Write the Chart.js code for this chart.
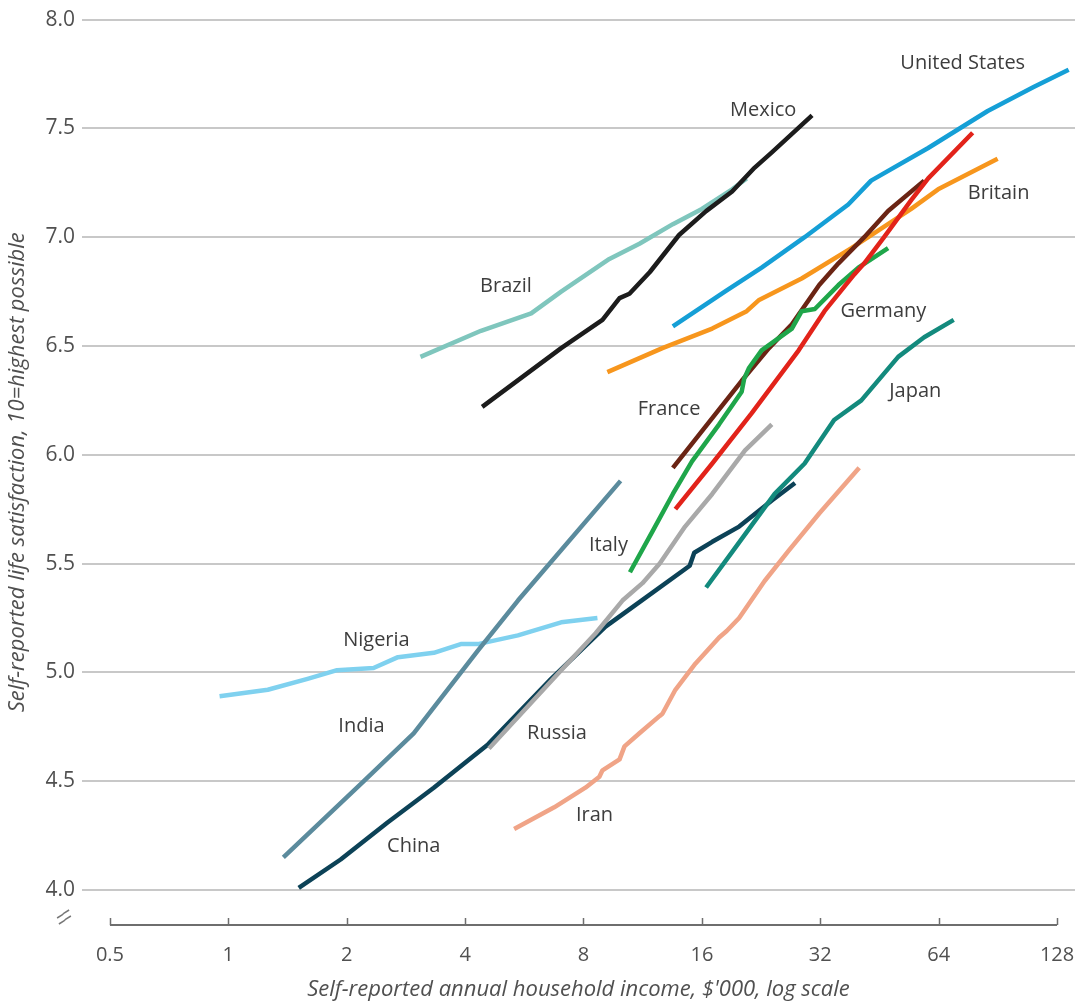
<!DOCTYPE html>
<html>
<head>
<meta charset="utf-8">
<script src="https://cdn.jsdelivr.net/npm/chart.js@4.4.0/dist/chart.umd.min.js"></script>
<style>
  html, body { margin: 0; padding: 0; background: #fff; }
  #wrap { position: relative; width: 1079px; height: 1005px; }
</style>
</head>
<body>
<div id="wrap"><canvas id="chart"></canvas></div>
<script>
"use strict";

// income in $'000 (log scale), life satisfaction 0-10
var xTicks = [0.5, 1, 2, 4, 8, 16, 32, 64, 128];
var yTicks = [4.0, 4.5, 5.0, 5.5, 6.0, 6.5, 7.0, 7.5, 8.0];

var brazilIncome = [3.08, 4.39, 5.89, 7.02, 9.31, 11.1, 13.5, 16.0, 19.1, 20.8];
var brazilScore  = [6.45, 6.57, 6.65, 6.75, 6.90, 6.97, 7.06, 7.13, 7.22, 7.27];

var mexicoIncome = [4.42, 7.02, 8.94, 9.88, 10.47, 11.8, 14.0, 16.4, 19.1, 21.8, 24.1, 30.5];
var mexicoScore  = [6.22, 6.49, 6.62, 6.72, 6.74, 6.84, 7.01, 7.12, 7.21, 7.32, 7.39, 7.56];

var usIncome = [13.5, 18.3, 22.7, 29.2, 37.7, 43.1, 60.2, 85.3, 111.6, 137];
var usScore  = [6.59, 6.75, 6.86, 7.00, 7.15, 7.26, 7.41, 7.58, 7.69, 7.77];

var britainIncome = [9.2, 12.7, 17.0, 20.8, 22.3, 28.7, 38.4, 44.9, 54.5, 63.8, 90.4];
var britainScore  = [6.38, 6.49, 6.58, 6.66, 6.71, 6.81, 6.95, 7.03, 7.13, 7.22, 7.36];

var franceIncome = [13.5, 20.2, 23.7, 27.1, 31.8, 35.6, 41.4, 47.6, 58.8];
var franceScore  = [5.94, 6.34, 6.49, 6.60, 6.78, 6.88, 7.00, 7.12, 7.26];

var italyIncome = [10.5, 12.0, 13.5, 15.1, 17.7, 20.2, 20.5, 21.1, 22.7, 27.1, 28.7, 31.0, 35.6, 40.0, 47.6];
var italyScore  = [5.46, 5.65, 5.82, 5.97, 6.14, 6.29, 6.35, 6.40, 6.48, 6.58, 6.66, 6.67, 6.78, 6.86, 6.95];

var germanyIncome = [13.7, 17.0, 21.4, 28.2, 32.8, 39.1, 41.4, 46.5, 54.5, 60.2, 78.1];
var germanyScore  = [5.75, 5.96, 6.19, 6.48, 6.66, 6.83, 6.88, 7.00, 7.17, 7.27, 7.48];

var russiaIncome = [4.6, 5.55, 7.02, 8.59, 10.05, 11.3, 12.5, 14.5, 17.0, 20.6, 24.1];
var russiaScore  = [4.65, 4.81, 5.01, 5.18, 5.33, 5.41, 5.50, 5.67, 5.82, 6.02, 6.14];

var chinaIncome = [1.51, 1.93, 2.54, 3.33, 4.58, 6.62, 9.1, 10.66, 14.9, 15.3, 17.0, 19.9, 24.1, 27.6];
var chinaScore  = [4.01, 4.14, 4.31, 4.47, 4.67, 4.97, 5.21, 5.30, 5.49, 5.55, 5.60, 5.67, 5.79, 5.87];

var japanIncome = [16.4, 19.4, 24.5, 29.2, 34.7, 40.7, 50.5, 58.8, 69.9];
var japanScore  = [5.39, 5.57, 5.82, 5.96, 6.16, 6.25, 6.45, 6.54, 6.62];

var iranIncome = [5.33, 6.74, 8.09, 8.78, 8.94, 9.88, 10.17, 11.1, 12.5, 12.7, 13.7, 15.4, 17.7, 18.5, 19.9, 23.1, 26.6, 31.8, 40.2];
var iranScore  = [4.28, 4.38, 4.47, 4.52, 4.55, 4.60, 4.66, 4.72, 4.80, 4.81, 4.92, 5.04, 5.16, 5.19, 5.25, 5.42, 5.56, 5.73, 5.94];

var nigeriaIncome = [0.95, 1.26, 1.59, 1.89, 2.34, 2.70, 3.33, 3.90, 4.31, 5.45, 7.02, 8.68];
var nigeriaScore  = [4.89, 4.92, 4.97, 5.01, 5.02, 5.07, 5.09, 5.13, 5.13, 5.17, 5.23, 5.25];

var indiaIncome = [1.38, 2.18, 2.96, 4.31, 5.45, 9.94];
var indiaScore  = [4.15, 4.49, 4.72, 5.10, 5.33, 5.88];

// country name labels: [text, income, satisfaction]
var countryLabels = [
  ['United States', 73.7, 7.80],
  ['Mexico', 22.9, 7.583],
  ['Britain', 90.9, 7.20],
  ['Brazil', 5.08, 6.775],
  ['Germany', 46.3, 6.66],
  ['France', 13.2, 6.21],
  ['Japan', 55.8, 6.294],
  ['Italy', 9.26, 5.583],
  ['Nigeria', 2.38, 5.147],
  ['India', 2.18, 4.752],
  ['Russia', 6.85, 4.72],
  ['Iran', 8.53, 4.344],
  ['China', 2.96, 4.202]
];

var FONT = "'Open Sans', 'DejaVu Sans', sans-serif";

function series(name, income, score, color) {
  return {
    label: name,
    data: income.map(function (x, i) { return { x: x, y: score[i] }; }),
    borderColor: color,
    backgroundColor: color,
    borderWidth: 4.5,
    pointRadius: 0,
    tension: 0,
    borderJoinStyle: 'round',
    clip: false
  };
}

var datasets = [
  series('India', indiaIncome, indiaScore, '#5b8b9d'),
  series('Mexico', mexicoIncome, mexicoScore, '#1c1c1c'),
  series('Brazil', brazilIncome, brazilScore, '#7fc6bd'),
  series('Germany', germanyIncome, germanyScore, '#e2231a'),
  series('Italy', italyIncome, italyScore, '#1fa64a'),
  series('France', franceIncome, franceScore, '#6b2414'),
  series('United States', usIncome, usScore, '#159fd6'),
  series('Britain', britainIncome, britainScore, '#f7961d'),
  series('Russia', russiaIncome, russiaScore, '#a9a9a9'),
  series('Japan', japanIncome, japanScore, '#138a7d'),
  series('China', chinaIncome, chinaScore, '#0c4257'),
  series('Iran', iranIncome, iranScore, '#f0a487'),
  series('Nigeria', nigeriaIncome, nigeriaScore, '#7fd1ef')
];

var extrasPlugin = {
  id: 'extras',
  afterDraw: function (chart) {
    var ctx = chart.ctx;
    var xs = chart.scales.x, ys = chart.scales.y;
    var base = chart.chartArea.bottom;
    ctx.save();
    // x axis line with upward ticks
    ctx.strokeStyle = '#6e6e6e';
    ctx.lineWidth = 2;
    ctx.beginPath();
    ctx.moveTo(xs.getPixelForValue(xTicks[0]), base);
    ctx.lineTo(xs.getPixelForValue(xTicks[xTicks.length - 1]), base);
    ctx.stroke();
    ctx.lineWidth = 1.5;
    xTicks.forEach(function (v) {
      var px = Math.round(xs.getPixelForValue(v)) + 0.5;
      ctx.beginPath();
      ctx.moveTo(px, base);
      ctx.lineTo(px, base - 7);
      ctx.stroke();
    });
    // axis break mark
    var bx = 64, by = 917;
    ctx.strokeStyle = '#777';
    ctx.lineWidth = 1.5;
    [-3, 3].forEach(function (d) {
      ctx.beginPath();
      ctx.moveTo(bx - 6 + d * 0.3, by + 4 + d);
      ctx.lineTo(bx - 1 + d * 0.3, by + 1 + d);
      ctx.lineTo(bx + 1 + d * 0.3, by - 1 + d);
      ctx.lineTo(bx + 6 + d * 0.3, by - 4 + d);
      ctx.stroke();
    });
    // country labels
    ctx.fillStyle = '#3d3d3d';
    ctx.font = '20px ' + FONT;
    ctx.textAlign = 'center';
    ctx.textBaseline = 'middle';
    countryLabels.forEach(function (l) {
      ctx.fillText(l[0], xs.getPixelForValue(l[1]), ys.getPixelForValue(l[2]));
    });
    ctx.restore();
  }
};

new Chart(document.getElementById('chart').getContext('2d'), {
  type: 'line',
  data: { datasets: datasets },
  plugins: [extrasPlugin],
  options: {
    responsive: true,
    maintainAspectRatio: false,
    animation: false,
    events: [],
    layout: { padding: { top: 18, right: 4, left: 0, bottom: 0 } },
    plugins: { legend: { display: false }, tooltip: { enabled: false } },
    scales: {
      x: {
        type: 'logarithmic',
        min: 0.4245,
        max: 142.2,
        afterBuildTicks: function (s) {
          s.ticks = xTicks.map(function (v) { return { value: v }; });
        },
        afterFit: function (s) {
          s.height = 80;
          s.paddingLeft = 0;
          s.paddingRight = 0;
        },
        ticks: {
          autoSkip: false,
          maxRotation: 0,
          padding: 18,
          color: '#505050',
          font: { family: FONT, size: 20 },
          callback: function (v) { return String(v); }
        },
        grid: { display: false, drawTicks: false },
        border: { display: false },
        title: {
          display: true,
          text: "Self-reported annual household income, $'000, log scale",
          color: '#505050',
          font: { family: FONT, size: 22, style: 'italic' },
          padding: { top: 0, bottom: 2 }
        }
      },
      y: {
        type: 'linear',
        min: 3.839,
        max: 8.0,
        afterBuildTicks: function (s) {
          s.ticks = yTicks.map(function (v) { return { value: v }; });
        },
        afterFit: function (s) { s.width = 82; },
        ticks: {
          padding: 7,
          color: '#505050',
          font: { family: FONT, size: 21 },
          callback: function (v) { return Number(v).toFixed(1); }
        },
        grid: { color: '#c8c8c8', lineWidth: 2, drawTicks: false },
        border: { display: false },
        title: {
          display: true,
          text: 'Self-reported life satisfaction, 10=highest possible',
          color: '#505050',
          font: { family: FONT, size: 22, style: 'italic' },
          padding: { top: 5, bottom: 0 }
        }
      }
    }
  }
});
</script>
</body>
</html>
